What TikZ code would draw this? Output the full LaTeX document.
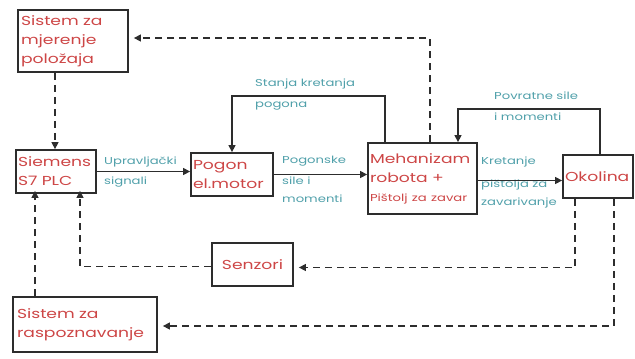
\documentclass[tikz,border=0pt]{standalone}
\usepackage{fontspec}
\setmainfont[FakeStretch=1.32]{Poppins}
\usetikzlibrary{arrows.meta}
\definecolor{boxred}{RGB}{205,70,70}
\definecolor{lblteal}{RGB}{80,160,170}
\definecolor{edge}{RGB}{45,45,45}
\tikzset{
  blk/.style={draw=edge,line width=1.8pt,inner sep=2pt,align=left,text=boxred,font=\fontsize{13}{19}\selectfont},
  lbl/.style={text=lblteal,align=left,inner sep=0pt,anchor=north west,font=\fontsize{10}{18}\selectfont},
  conn/.style={draw=edge,line width=1.4pt,-{Triangle[length=7pt,width=7pt]}},
  dconn/.style={conn,dash pattern=on 7pt off 5pt},
}
\begin{document}
\begin{tikzpicture}[x=1pt,y=-1pt]
\useasboundingbox (0,0) rectangle (635,359);
\node[blk,minimum width=110pt,minimum height=62pt,text width=104pt] (mjer) at (73,41) {Sistem za\\mjerenje\\položaja};
\node[blk,minimum width=80pt,minimum height=43pt,text width=76pt] (plc) at (56,171.5) {Siemens\\S7 PLC};
\node[blk,minimum width=82pt,minimum height=43pt,text width=78pt] (pogon) at (232,174.5) {Pogon\\el.motor};
\node[blk,minimum width=109pt,minimum height=71pt,text width=105pt] (meh) at (422.5,178.5) {Mehanizam\\robota +\\{\fontsize{10}{17}\selectfont Pištolj za zavar}};
\node[blk,minimum width=70pt,minimum height=43pt,text width=66pt] (okol) at (598,176.5) {Okolina};
\node[blk,minimum width=81pt,minimum height=43pt,text width=70pt,align=center] (senz) at (252.5,264.5) {Senzori};
\node[blk,minimum width=144pt,minimum height=55pt,text width=136pt] (rasp) at (85,324.5) {Sistem za\\raspoznavanje};

\node[lbl] (l1) at (104,157) {Upravljački\\[2pt]signali};
\node[lbl] (l2) at (282,156) {Pogonske\\[3pt]sile i\\momenti};
\node[lbl] (l3) at (255,79) {Stanja kretanja\\[3pt]pogona};
\node[lbl] (l4) at (494,92) {Povratne sile\\[3pt]i momenti};
\node[lbl] (l5) at (481,157) {Kretanje\\[5pt]pištolja za\\zavarivanje};

\draw[conn] (plc.east) -- (plc.east -| pogon.west);
\draw[conn] (pogon.east) -- (pogon.east -| meh.west);
\draw[conn] ([yshift=-2pt]meh.east) -- ([yshift=-2pt]meh.east -| okol.west);
\draw[conn] ([xshift=-37.5pt]meh.north) -- ++(0,-46) -| (pogon.north);
\draw[conn] ([xshift=2pt]okol.north) -- ++(0,-45) -| ([xshift=35.5pt]meh.north);

\draw[dconn] ([xshift=7.5pt]meh.north) |- ([xshift=5pt,yshift=3pt]mjer.east);
\draw[dconn] ([xshift=-18pt]mjer.south) -- ([xshift=-18pt]mjer.south |- plc.north);
\draw[dconn] ([xshift=-23pt]okol.south) |- ([xshift=5pt,yshift=-3pt]senz.east);
\draw[dconn] ([yshift=-2pt]senz.west) -| ([xshift=24pt,yshift=3pt]plc.south);
\draw[dconn] ([xshift=16pt]okol.south) |- ([xshift=5pt,yshift=-1.5pt]rasp.east);
\draw[dconn] ([xshift=-50pt]rasp.north) -- ([xshift=-50pt,yshift=3pt]rasp.north |- plc.south);
\end{tikzpicture}
\end{document}
